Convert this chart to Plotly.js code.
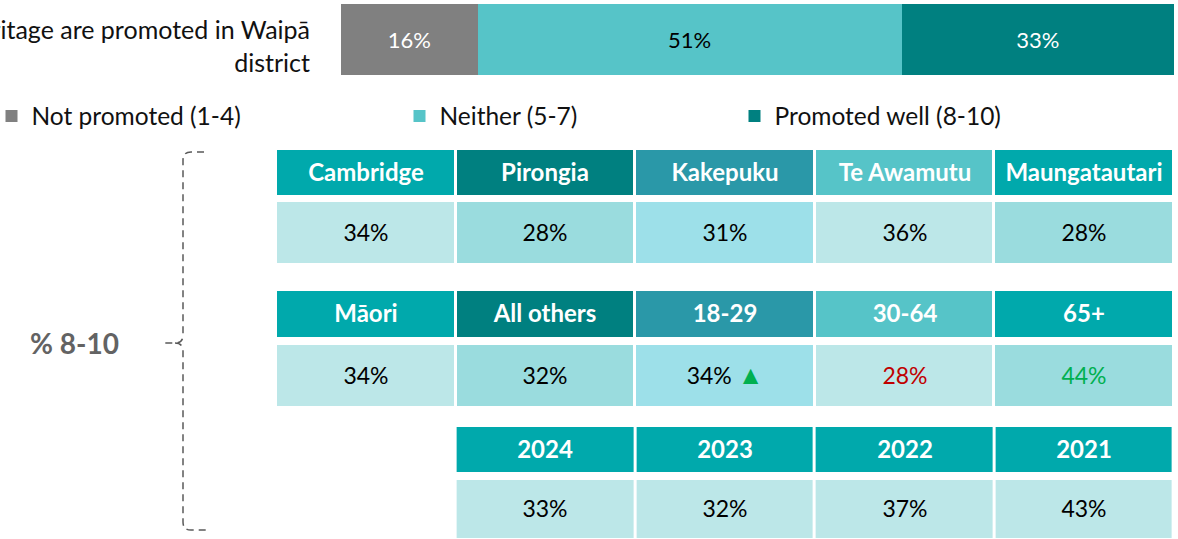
<!DOCTYPE html>
<html><head><meta charset="utf-8">
<script src="https://cdn.plot.ly/plotly-3.0.1.min.js"></script>
<style>html,body{margin:0;padding:0;background:#fff;}#chart{width:1178px;height:539px;}</style>
</head><body><div id="chart"></div>
<script>
// ---------------- data ----------------
const question = 'Arts, culture and heritage are promoted in Waipā<br>district';
const ratingCategories = ['Not promoted (1-4)', 'Neither (5-7)', 'Promoted well (8-10)'];
const ratingValues = [16.4, 50.9, 32.7];

const wardNames = ['Cambridge', 'Pirongia', 'Kakepuku', 'Te Awamutu', 'Maungatautari'];
const wardValues = [34, 28, 31, 36, 28];

const groupNames = ['Māori', 'All others', '18-29', '30-64', '65+'];
const groupValues = [34, 32, 34, 28, 44];
const groupSignificance = ['', '', 'up', 'lower', 'higher'];

const yearNames = ['2024', '2023', '2022', '2021'];
const yearValues = [33, 32, 37, 43];

const summaryLabel = '% 8-10';

// ---------------- styles / layout helpers ----------------
const W = 1178, H = 539;
const px = x => x / W, py = y => 1 - y / H;
const FONT = 'Lato, "Open Sans", sans-serif';
const ratingColors = ['#808080', '#56C4C8', '#008080'];
const ratingTextColors = ['#ffffff', '#000000', '#ffffff'];
const palette = ['#00A9AC', '#008080', '#2A98A8', '#56C4C8', '#BCE7E8', '#9ADCDE', '#9DE0E9'];
const colourscale = palette.map((c, i) => [i / (palette.length - 1), c]);
const headerStyle5 = [0, 1, 2, 3, 0];
const valueStyle5 = [4, 5, 6, 4, 5];
const headerStyle4 = [0, 0, 0, 0];
const valueStyle4 = [4, 4, 4, 4];
const rowEdges = { h1: [150, 195], v1: [202, 263], h2: [291, 337], v2: [345, 406], h3: [427, 472], v3: [480, 538] };
const headerFont = { family: FONT, size: 24, color: '#ffffff', weight: 'bold' };
const valueFont = { family: FONT, size: 23, color: '#000000' };
const sigColours = { up: '#00B050', lower: '#C00000', higher: '#00B050' };

function pct(v, sig) {
  if (sig === 'up') return v + '% <span style="color:' + sigColours.up + ';font-size:26px">▲</span>';
  if (sig === 'lower' || sig === 'higher') return '<span style="color:' + sigColours[sig] + '">' + v + '%</span>';
  return v + '%';
}

function tileRow(cols, texts, styles, edges, font) {
  return {
    type: 'heatmap', xaxis: 'x2', yaxis: 'y2',
    x: cols, y: edges, z: [styles], text: [texts],
    texttemplate: '%{text}', textfont: font,
    colorscale: colourscale, zmin: 0, zmax: palette.length - 1,
    showscale: false, xgap: 3, ygap: 0, hoverinfo: 'skip', showlegend: false
  };
}

const idx5 = wardNames.map((_, i) => i);
const idx4 = yearNames.map((_, i) => i + 1);

const traces = [];
ratingCategories.forEach((name, i) => {
  traces.push({
    type: 'bar', orientation: 'h', name: name,
    x: [ratingValues[i]], y: [question],
    marker: { color: ratingColors[i] },
    texttemplate: '%{x:.0f}%', textposition: 'inside', insidetextanchor: 'middle',
    textangle: 0,
    textfont: { family: FONT, size: 22, color: ratingTextColors[i] },
    legend: i === 0 ? 'legend' : 'legend' + (i + 1),
    hoverinfo: 'skip'
  });
});

traces.push(tileRow(idx5, wardNames, headerStyle5, rowEdges.h1, headerFont));
traces.push(tileRow(idx5, wardValues.map(v => pct(v, '')), valueStyle5, rowEdges.v1, valueFont));
traces.push(tileRow(idx5, groupNames, headerStyle5, rowEdges.h2, headerFont));
traces.push(tileRow(idx5, groupValues.map((v, i) => pct(v, groupSignificance[i])), valueStyle5, rowEdges.v2, valueFont));
traces.push(tileRow(idx4, yearNames, headerStyle4, rowEdges.h3, headerFont));
traces.push(tileRow(idx4, yearValues.map(v => pct(v, '')), valueStyle4, rowEdges.v3, valueFont));

const legendBase = {
  orientation: 'h', yanchor: 'middle', xanchor: 'left', y: py(116),
  font: { family: FONT, size: 24.5, color: '#111111' }, bgcolor: 'rgba(0,0,0,0)'
};

const bracePath = [
  'M', px(204), py(152), 'L', px(191), py(152),
  'Q', px(183), py(152), px(183), py(160),
  'L', px(183), py(335),
  'Q', px(183), py(343), px(175), py(343),
  'L', px(161), py(343),
  'M', px(175), py(343),
  'Q', px(183), py(343), px(183), py(351),
  'L', px(183), py(522),
  'Q', px(183), py(530), px(191), py(530),
  'L', px(207), py(530)
].join(' ');

const layout = {
  width: W, height: H,
  margin: { l: 0, r: 0, t: 0, b: 0, autoexpand: false },
  paper_bgcolor: '#ffffff', plot_bgcolor: 'rgba(0,0,0,0)',
  barmode: 'stack', bargap: 0,
  showlegend: true,
  xaxis: { domain: [px(341), px(1174)], range: [0, 100], visible: false, fixedrange: true },
  yaxis: {
    domain: [py(75), py(4)], range: [-0.5, 0.5], type: 'category',
    showgrid: false, zeroline: false, showline: false, ticks: '',
    ticklabelstandoff: 30, ticklabelshift: 7, automargin: false,
    tickfont: { family: FONT, size: 25, color: '#111111' }, fixedrange: true
  },
  xaxis2: { domain: [px(276), px(1174)], range: [-0.5, 4.5], visible: false, anchor: 'y2', fixedrange: true },
  yaxis2: { domain: [0, 1], range: [H, 0], visible: false, anchor: 'x2', fixedrange: true },
  legend: Object.assign({}, legendBase, { x: px(-8.5) }),
  legend2: Object.assign({}, legendBase, { x: px(399.5) }),
  legend3: Object.assign({}, legendBase, { x: px(734.5) }),
  annotations: [{
    text: summaryLabel, xref: 'paper', yref: 'paper', x: px(74), y: py(343),
    xanchor: 'center', yanchor: 'middle', showarrow: false,
    font: { family: FONT, size: 28, color: '#636363', weight: 'bold' }
  }],
  shapes: [{
    type: 'path', xref: 'paper', yref: 'paper', path: bracePath,
    line: { color: '#595959', width: 1.5, dash: '7px,5px' }
  }]
};

Plotly.newPlot('chart', traces, layout, { staticPlot: true, displayModeBar: false });
</script>
</body></html>
